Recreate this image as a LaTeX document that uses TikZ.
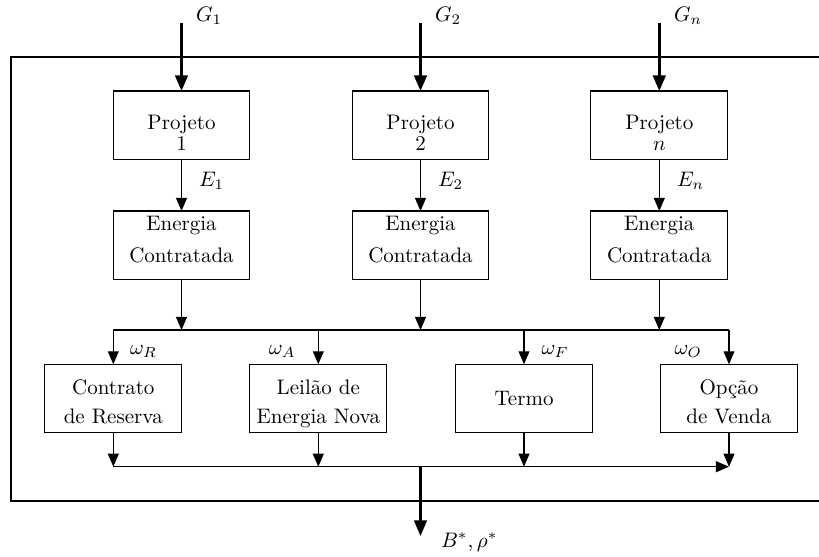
\documentclass[tikz,border=0pt]{standalone}
\usetikzlibrary{arrows.meta}
\begin{document}
\begin{tikzpicture}[x=0.4762pt,y=-0.4762pt,
  blk/.style={draw, line width=0.5pt, minimum width=65.1pt, minimum height=32.4pt,
    inner sep=0pt, outer sep=0pt, align=center},
  flow/.style={line width=0.5pt, -{Triangle[length=6.2pt,width=5.2pt]}},
  link/.style={line width=0.5pt},
  heavy/.style={line width=1.2pt, -{Triangle[length=7.4pt,width=6pt]}},
  frame/.style={line width=0.9pt},
  lbl/.style={inner sep=0pt, outer sep=0pt}]
\useasboundingbox (0,0) rectangle (819,556);

% outer frame (open on the right)
\draw[frame] (819,57) -- (11,57) -- (11,500.7) -- (819,500.7);

% helper rows
\coordinate (top)  at (0,23.3);
\coordinate (busA) at (0,330);
\coordinate (busB) at (0,466.7);
\coordinate (outp) at (0,536);

% projects
\node[blk, text height=24.4pt, text depth=0pt] (p1) at (181.5,125) {Projeto\\[-1.8pt]1};
\node[blk, text height=24.4pt, text depth=0pt] (p2) at (420.5,125) {Projeto\\[-1.8pt]2};
\node[blk, text height=24.4pt, text depth=0pt] (p3) at (659.3,125) {Projeto\\[-1.8pt]$n$};

% contracted energy
\node[blk, text height=16.8pt, text depth=0pt] (e1) at (181.5,245) {Energia\\[3.2pt]Contratada};
\node[blk, text height=16.8pt, text depth=0pt] (e2) at (420.5,245) {Energia\\[3.2pt]Contratada};
\node[blk, text height=16.8pt, text depth=0pt] (e3) at (659.3,245) {Energia\\[3.2pt]Contratada};

% contract types
\node[blk, text height=23.8pt, text depth=0pt] (c1) at (113.3,398.3) {Contrato\\[1.5pt]de Reserva};
\node[blk, text height=23.8pt, text depth=0pt] (c2) at (318.3,398.3) {Leilão de\\[1.5pt]Energia Nova};
\node[blk] (c3) at (524,398.3) {Termo};
\node[blk, text height=23.8pt, text depth=0pt] (c4) at (729,398.3) {Opção\\[1.5pt]de Venda};

% inputs G
\foreach \p in {p1,p2,p3}
  \draw[heavy] (\p.north |- top) -- (\p.north);
\node[lbl, anchor=base west] (lg1) at (196,21.7) {$G_1$};
\node[lbl, anchor=base west] (lg2) at (435,21.7) {$G_2$};
\node[lbl, anchor=base west] (lg3) at (674,21.7) {$G_n$};

% project -> energy
\foreach \i in {1,2,3}
  \draw[flow] (p\i.south) -- (e\i.north);
\node[lbl, anchor=base west] (le1) at (199,186) {$E_1$};
\node[lbl, anchor=base west] (le2) at (438,186.5) {$E_2$};
\node[lbl, anchor=base west] (le3) at (677,186.5) {$E_n$};

% energy -> upper bus
\foreach \i in {1,2,3}
  \draw[flow] (e\i.south) -- (e\i.south |- busA);
\draw[link] (c1.north |- busA) -- (c4.north |- busA);

% upper bus -> contract types
\foreach \i in {1,2,3,4}
  \draw[flow] (c\i.north |- busA) -- (c\i.north);
\node[lbl, anchor=base west] (wr) at (130,354) {$\omega_R$};
\node[lbl, anchor=base east] (wa) at (295.5,354) {$\omega_A$};
\node[lbl, anchor=base west] (wf) at (541.5,354) {$\omega_F$};
\node[lbl, anchor=base east] (wo) at (702,354) {$\omega_O$};

% contract types -> lower bus
\foreach \i in {1,2,3,4}
  \draw[flow] (c\i.south) -- (c\i.south |- busB);
\draw[flow] (c1.south |- busB) -- (c4.south |- busB);

% output
\draw[heavy] (p2.south |- busB) -- (p2.south |- outp);
\node[lbl, anchor=base west] (lout) at (441,547) {$B^*,\rho^*$};
\end{tikzpicture}
\end{document}
